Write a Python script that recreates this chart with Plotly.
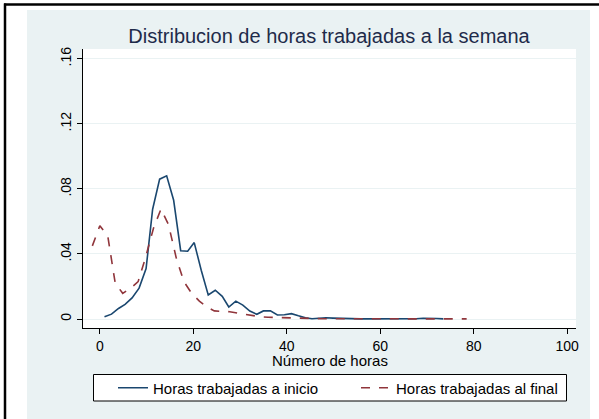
import plotly.graph_objects as go

# Horas trabajadas a inicio (kernel density estimate)
horas_inicio = [1.0, 2.5, 4.0, 5.4, 6.9, 8.4, 9.9, 11.3, 12.8, 14.3, 15.8, 17.3, 18.8, 20.2,
                21.7, 23.2, 24.7, 26.2, 27.6, 29.1, 30.6, 32.1, 33.6, 35.0, 36.5, 38.0,
                39.5, 41.0, 42.5, 44.0, 45.4, 46.9, 48.4, 49.9, 51.4, 52.8, 54.3, 55.8,
                57.3, 58.8, 60.3, 61.7, 63.2, 64.7, 66.2, 67.7, 69.2, 70.6, 72.1, 73.5]
dens_inicio = [0.0014, 0.003, 0.0065, 0.009, 0.013, 0.019, 0.031, 0.0675, 0.086, 0.088,
               0.073, 0.042, 0.0417, 0.047, 0.030, 0.0148, 0.0177, 0.014, 0.0074, 0.011,
               0.0086, 0.0049, 0.0029, 0.005, 0.005, 0.0025, 0.0026, 0.0033, 0.002, 0.0008,
               0.0002, 0.0006, 0.0008, 0.0006, 0.0004, 0.0002, 0.0001, 0.0001, 0.0001,
               0.0001, 0.0001, 0.0001, 0.0001, 0.0001, 0.0, 0.0002, 0.0005, 0.0006, 0.0003,
               0.0001]

# Horas trabajadas al final
horas_final = [-1.6, 0.0, 1.7, 3.3, 4.9, 6.6, 8.2, 9.8, 11.5, 13.1, 14.7, 16.4, 18.0, 19.6,
               21.3, 22.9, 24.5, 26.2, 27.8, 29.4, 31.1, 32.7, 34.3, 36.0, 37.6, 39.2,
               40.9, 42.5, 44.1, 45.8, 47.4, 49.0, 50.7, 52.3, 53.9, 55.6, 57.2, 58.8,
               60.5, 62.1, 63.7, 65.4, 67.0, 68.6, 70.3, 71.9, 73.5, 75.2, 76.8, 78.5]
dens_final = [0.045, 0.0574, 0.051, 0.022, 0.0158, 0.019, 0.023, 0.038, 0.056, 0.0677,
              0.058, 0.037, 0.023, 0.016, 0.011, 0.0075, 0.005, 0.0048, 0.0045, 0.0037,
              0.0028, 0.002, 0.0014, 0.0011, 0.0009, 0.0008, 0.0006, 0.0005, 0.0004,
              0.0003, 0.0002, 0.0002, 0.0001, 0.0001, 0.0001, 0.0001, 0.0001, 0.0,
              0.0, 0.0001, 0.0001, 0.0001, 0.0, 0.0, 0.0001, 0.0001, 0.0001, 0.0001,
              0.0001, 0.0001]

y_ticks = [0, 0.04, 0.08, 0.12, 0.16]
y_tick_labels = ["0", ".04", ".08", ".12", ".16"]
x_ticks = [0, 20, 40, 60, 80, 100]

FONT = "Liberation Sans, Arial, sans-serif"
W, H = 599, 419
L, R, T, B = 83, 576, 49, 328


def px(x):
    return (x - L) / (R - L)


def py(y):
    return (B - y) / (B - T)


fig = go.Figure()
fig.add_trace(go.Scatter(x=horas_inicio, y=dens_inicio, mode="lines",
                         name="Horas trabajadas a inicio", legend="legend",
                         line=dict(color="#1a476f", width=1.6)))
fig.add_trace(go.Scatter(x=horas_final, y=dens_final, mode="lines",
                         name="Horas trabajadas al final", legend="legend2",
                         line=dict(color="#90353b", width=1.6, dash="dash")))

shapes = [
    dict(type="rect", xref="paper", yref="paper", x0=px(27), x1=px(590),
         y0=py(10), y1=py(425), fillcolor="#eaf2f3", line=dict(width=0), layer="below"),
    dict(type="rect", xref="paper", yref="paper", x0=0, x1=1, y0=0, y1=1,
         fillcolor="white", line=dict(width=0), layer="below"),
    dict(type="rect", xref="paper", yref="paper", x0=px(93.5), x1=px(566.5),
         y0=py(374.5), y1=py(401), fillcolor="white",
         line=dict(color="black", width=1), layer="below"),
    dict(type="line", xref="paper", yref="paper", x0=px(4), x1=px(599),
         y0=py(4.5), y1=py(4.5), line=dict(color="black", width=2.5)),
    dict(type="line", xref="paper", yref="paper", x0=px(5), x1=px(5),
         y0=py(3.5), y1=py(425), line=dict(color="black", width=2.5)),
]

legend_common = dict(orientation="h", xref="container", yref="container",
                     y=1 - 388 / H, xanchor="left", yanchor="middle",
                     bgcolor="rgba(0,0,0,0)", borderwidth=0,
                     font=dict(family=FONT, size=15, color="black"))

fig.update_layout(
    width=W, height=H,
    margin=dict(l=L, r=W - R, t=T, b=H - B, autoexpand=False),
    paper_bgcolor="white",
    plot_bgcolor="rgba(0,0,0,0)",
    font=dict(family=FONT, size=15, color="black"),
    shapes=shapes,
    title=dict(text="Distribucion de horas trabajadas a la semana",
               x=329 / W, xref="container", xanchor="center",
               y=1 - 35.5 / H, yref="container", yanchor="middle",
               font=dict(family=FONT, size=20, color="#1e2b4a")),
    annotations=[dict(text="Número de horas", xref="paper", yref="paper",
                      x=0.5, y=py(361), xanchor="center", yanchor="middle",
                      showarrow=False, font=dict(family=FONT, size=15, color="black"))],
    xaxis=dict(range=[-3.6, 101.9], tickvals=x_ticks, ticks="outside", ticklen=5,
               tickcolor="black", showline=True, linecolor="black", linewidth=1,
               showgrid=False, zeroline=False, automargin=False,
               tickfont=dict(family=FONT, size=14)),
    yaxis=dict(range=[-0.0055, 0.166], tickvals=y_ticks, ticktext=y_tick_labels,
               tickangle=-90, ticks="outside", ticklen=5, tickcolor="black",
               showline=True, linecolor="black", linewidth=1, automargin=False,
               tickfont=dict(family=FONT, size=14),
               showgrid=True, gridcolor="#eaf2f3", gridwidth=1, zeroline=False),
    legend=dict(x=113 / W, **legend_common),
    legend2=dict(x=356 / W, **legend_common),
    showlegend=True,
)

fig.write_html("out.html", config={"displayModeBar": False},
               post_script="document.body.style.margin='0';")
